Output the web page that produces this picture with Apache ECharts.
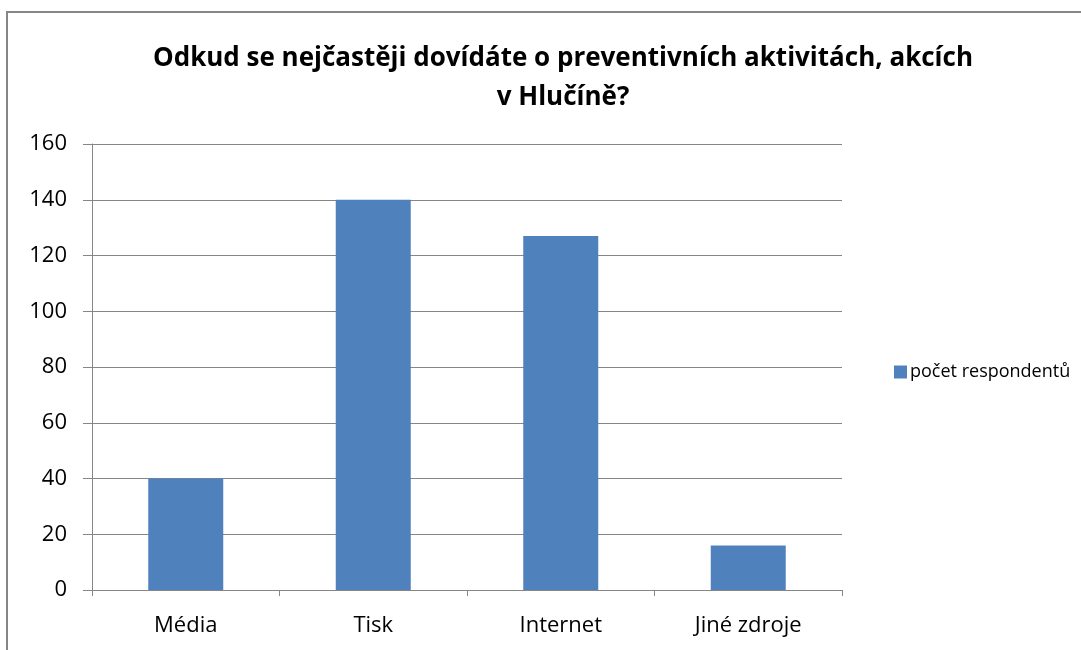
<!DOCTYPE html>
<html><head><meta charset="utf-8">
<script src="https://cdn.jsdelivr.net/npm/echarts@6/dist/echarts.min.js"></script>
<style>html,body{margin:0;padding:0;background:#fff}#c{width:1081px;height:650px}</style>
</head><body><div id="c"></div>
<script>
const titleText = "Odkud se nejčastěji dovídáte o preventivních aktivitách, akcích\nv Hlučíně?";
const categories = ["Média", "Tisk", "Internet", "Jiné zdroje"];
const seriesName = "počet respondentů";
const values = [40, 140, 127, 16];
const yMin = 0, yMax = 160, yStep = 20;

const chart = echarts.init(document.getElementById('c'), null, {renderer: 'canvas'});
const font = "'Open Sans', 'Noto Sans', sans-serif";
chart.setOption({
  animation: false,
  backgroundColor: '#fff',
  title: {
    text: titleText,
    left: 558, top: 34, textAlign: 'center',
    textStyle: {fontFamily: font, fontWeight: 'bold', fontSize: 26, lineHeight: 39, color: '#000'}
  },
  graphic: [{
    type: 'polyline', shape: {points: [[7, 660], [7, 12], [1090, 12]]},
    style: {stroke: '#868686', lineWidth: 2, fill: null}
  }],
  legend: {
    left: 889, top: 358, itemWidth: 13, itemHeight: 13, itemGap: 5,
    icon: 'rect',
    textStyle: {fontFamily: font, fontSize: 18, color: '#000', padding: [0, 0, 0, -2]},
    data: [seriesName]
  },
  grid: {left: 92, right: 239, top: 144, bottom: 60, containLabel: false},
  xAxis: {
    type: 'category', data: categories,
    axisLine: {lineStyle: {color: '#868686', width: 1}},
    axisTick: {show: true, length: 6, lineStyle: {color: '#868686'}},
    axisLabel: {fontFamily: font, fontSize: 22, color: '#000', margin: 25}
  },
  yAxis: {
    type: 'value', min: yMin, max: yMax, interval: yStep,
    axisLine: {show: true, lineStyle: {color: '#868686', width: 1}},
    axisTick: {show: true, length: 9, lineStyle: {color: '#868686'}},
    splitLine: {lineStyle: {color: '#868686', width: 1}},
    axisLabel: {fontFamily: font, fontSize: 22, color: '#000', margin: 25}
  },
  series: [{
    name: seriesName, type: 'bar', data: values,
    barCategoryGap: '60%',
    itemStyle: {color: '#4F81BD'}
  }]
});
</script></body></html>
